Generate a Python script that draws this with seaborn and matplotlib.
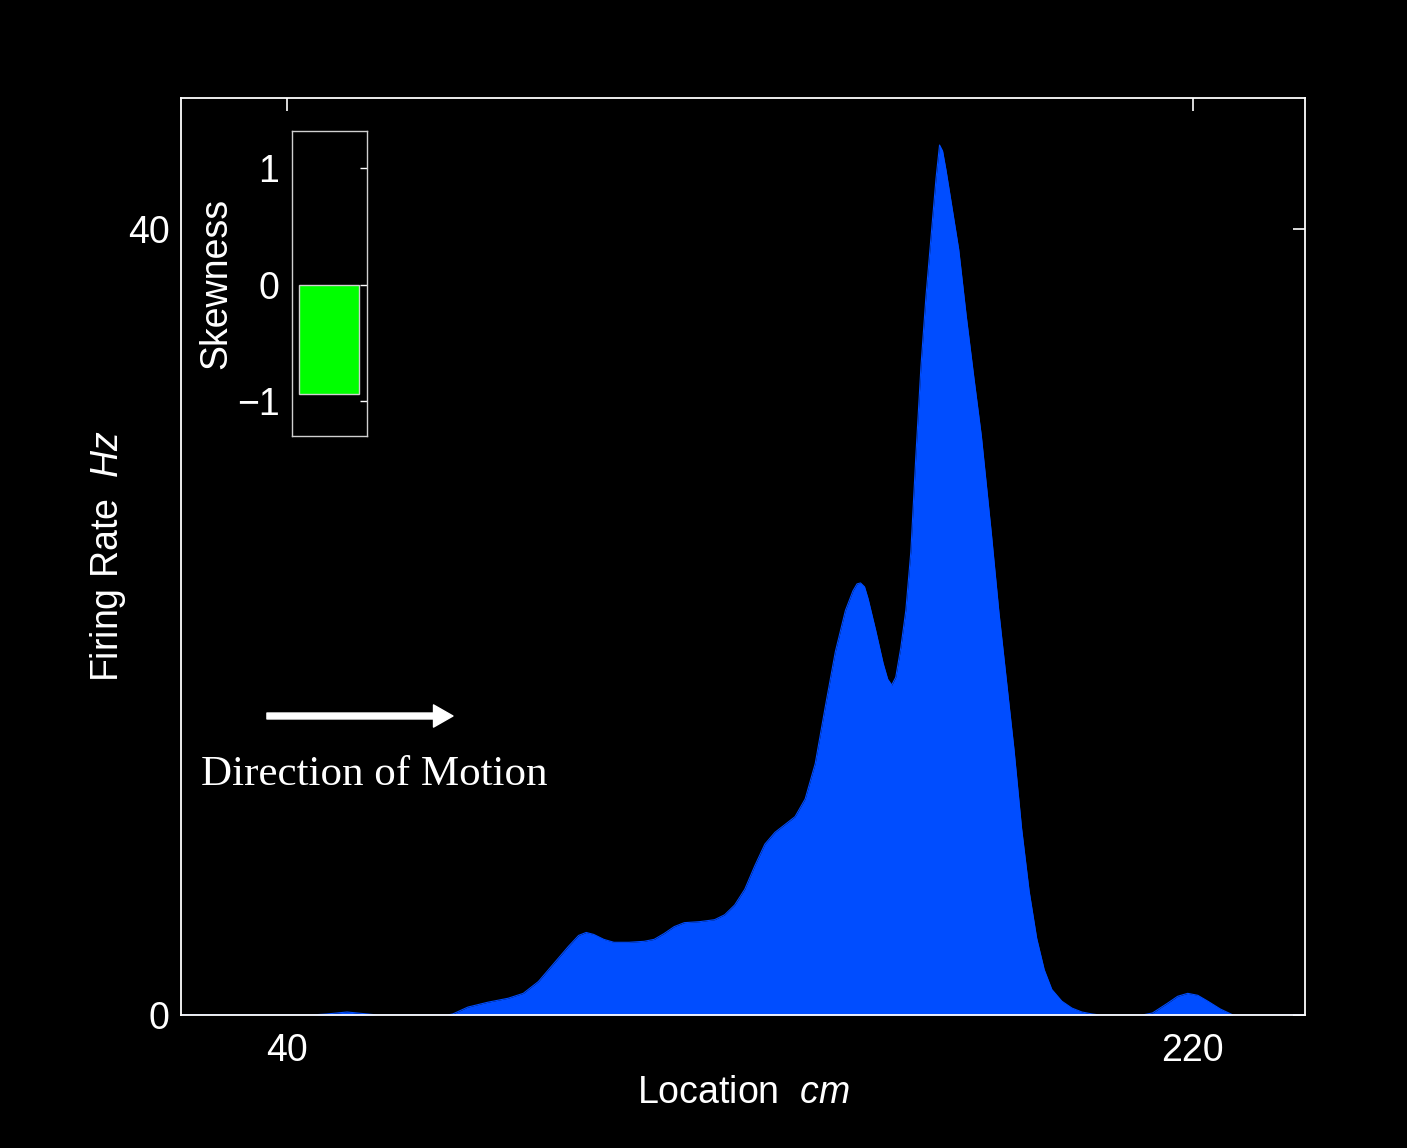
import numpy as np
import pandas as pd
import matplotlib
matplotlib.use("Agg")
import matplotlib.pyplot as plt
import seaborn as sns

# Firing-rate profile along the track (cm, Hz)
location_cm = [19, 45, 48, 52, 56, 58, 72, 73, 76, 80, 84, 87, 90, 93, 96, 98,
               99.5, 101, 103, 105, 108, 111, 113, 115, 117, 119, 122, 125, 127,
               129, 131, 133, 135, 137, 139, 141, 143, 145, 147, 149, 151, 152.5,
               153.3, 154, 154.8, 155.5, 157, 158.5, 159.4, 160.2, 161, 162, 163,
               164, 165, 166, 167, 168, 169, 169.7, 170.3, 171, 172, 173.5, 175,
               176.5, 178, 180, 181.5, 183, 184.5, 186, 187.5, 189, 190.5, 192,
               194, 196, 198, 200, 201.5, 210, 212, 215, 217, 219, 221, 223,
               225.5, 228, 242]
firing_rate_hz = [0, 0, 0.05, 0.15, 0.05, 0, 0, 0.05, 0.4, 0.65, 0.85, 1.1, 1.7,
                  2.6, 3.5, 4.05, 4.2, 4.1, 3.85, 3.7, 3.7, 3.75, 3.85, 4.15, 4.5,
                  4.7, 4.75, 4.85, 5.1, 5.6, 6.4, 7.6, 8.7, 9.3, 9.7, 10.1, 11.0,
                  12.8, 15.7, 18.5, 20.6, 21.6, 21.95, 22.0, 21.8, 21.2, 19.6,
                  17.9, 17.1, 16.8, 17.2, 18.7, 20.6, 23.6, 28.5, 33.0, 36.6,
                  39.6, 42.6, 44.3, 44.0, 43.0, 41.4, 39.0, 35.6, 32.5, 29.5,
                  24.5, 20.5, 17.0, 13.5, 9.5, 6.3, 3.9, 2.3, 1.3, 0.7, 0.35,
                  0.15, 0.05, 0, 0, 0.1, 0.6, 0.95, 1.1, 1.0, 0.7, 0.3, 0, 0]

x_ticks = [40, 220]
y_ticks = [0, 40]

# Skewness of the field
skew_labels = ["field"]
skew_values = [-0.94]
skew_ticks = [-1, 0, 1]

profile = pd.DataFrame({"location": location_cm, "rate": firing_rate_hz})
skew_df = pd.DataFrame({"field": skew_labels, "skewness": skew_values})

sns.set_theme(style="dark")
plt.rcParams["font.family"] = ["Liberation Sans", "DejaVu Sans"]
plt.rcParams["mathtext.fontset"] = "custom"
plt.rcParams["mathtext.it"] = "Liberation Sans:italic"
plt.rcParams["mathtext.rm"] = "Liberation Sans"

fill_color = "#004dff"
fg = "white"
fs = 27

fig = plt.figure(figsize=(14.07, 11.48), dpi=100, facecolor="black")
ax = fig.add_axes([0.1286, 0.1159, 0.7989, 0.7988])
ax.set_facecolor("black")

sns.lineplot(data=profile, x="location", y="rate", ax=ax,
             color=fill_color, linewidth=0.8, estimator=None, sort=False)
ax.fill_between(profile["location"], profile["rate"], 0,
                color=fill_color, linewidth=0)

ax.set_xlim(19, 242.3)
ax.set_ylim(0, 46.7)
ax.set_xticks(x_ticks)
ax.set_yticks(y_ticks)
ax.tick_params(axis="both", which="both", direction="in", length=9, width=1.2,
               colors=fg, labelsize=fs, top=True, right=True,
               labeltop=False, labelright=False)
ax.tick_params(axis="x", pad=13)
ax.tick_params(axis="y", pad=8)
ax.grid(False)
for sp in ax.spines.values():
    sp.set_color(fg)
    sp.set_linewidth(1.3)
    sp.set_visible(True)

ax.set_xlabel("Location  $\\mathit{cm}$", color=fg, fontsize=fs, labelpad=4)
ax.set_ylabel("Firing Rate  $\\mathit{Hz}$", color=fg, fontsize=fs, labelpad=0)

# Direction-of-motion arrow and caption
ax.annotate("", xy=(0.242, 0.326), xytext=(0.0765, 0.326),
            xycoords="axes fraction", textcoords="axes fraction",
            arrowprops=dict(facecolor=fg, edgecolor=fg, width=4.3,
                            headwidth=16, headlength=14, shrink=0))
ax.text(0.0178, 0.251, "Direction of Motion", transform=ax.transAxes,
        color=fg, fontsize=31, family=["Liberation Serif", "DejaVu Serif"],
        ha="left", va="baseline")

# Inset: skewness bar
ins = fig.add_axes([0.2075, 0.6202, 0.0533, 0.2657])
ins.set_facecolor("black")
sns.barplot(data=skew_df, x="field", y="skewness", ax=ins, color="#00ff00",
            width=0.8, edgecolor="#d0d0d0", linewidth=1.0, saturation=1)
ins.set_xlim(-0.5, 0.5)
ins.set_ylim(-1.3, 1.32)
ins.set_yticks(skew_ticks)
ins.set_yticklabels(["\u22121", "0", "1"])
ins.set_xticks([])
ins.set_xlabel("")
ins.set_ylabel("Skewness", color=fg, fontsize=fs, labelpad=2)
ins.tick_params(axis="y", direction="in", length=5, width=1, colors=fg,
                labelsize=fs, right=True, pad=9)
ins.grid(False)
for sp in ins.spines.values():
    sp.set_color("#d0d0d0")
    sp.set_linewidth(1.0)
    sp.set_visible(True)

fig.savefig("out.png", dpi=100, facecolor="black")
